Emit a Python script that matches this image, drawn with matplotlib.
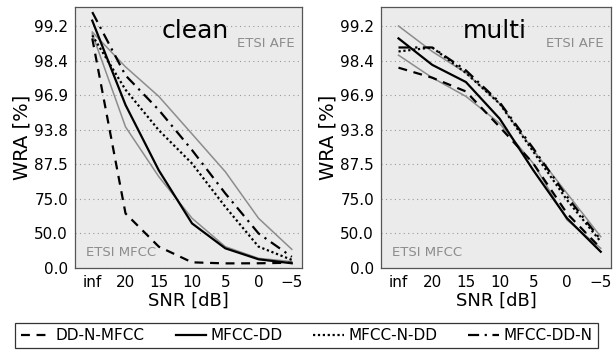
import numpy as np
import matplotlib
matplotlib.use("Agg")
import matplotlib.pyplot as plt

snr_labels = ["inf", "20", "15", "10", "5", "0", "\u22125"]

# WRA [%] per SNR condition, clean training
clean_dd_n_mfcc = [99.0, 66.5, 34.8, 10.7, 8.8, 9.0, 10.0]
clean_mfcc_dd = [99.3, 96.2, 85.9, 59.1, 32.6, 16.0, 9.0]
clean_mfcc_n_dd = [99.06, 97.2, 93.7, 87.7, 70.7, 34.8, 15.0]
clean_mfcc_dd_n = [99.41, 97.9, 95.8, 90.6, 77.6, 50.0, 20.0]
clean_etsi_afe = [99.12, 98.23, 96.8, 93.2, 85.5, 63.1, 31.2]
clean_etsi_mfcc = [99.09, 94.1, 84.0, 63.1, 34.8, 17.6, 12.0]

# multi-condition training
multi_dd_n_mfcc = [98.2, 97.8, 97.1, 94.1, 87.7, 66.5, 32.6]
multi_mfcc_dd = [99.0, 98.3, 97.6, 95.0, 85.9, 63.1, 27.8]
multi_mfcc_n_dd = [98.7, 98.8, 98.0, 96.3, 90.3, 74.4, 41.0]
multi_mfcc_dd_n = [98.8, 98.8, 98.1, 96.4, 90.9, 76.1, 43.0]
multi_etsi_afe = [99.22, 98.7, 98.0, 96.3, 90.6, 77.6, 46.6]
multi_etsi_mfcc = [98.6, 97.8, 96.8, 94.5, 87.7, 61.8, 32.6]

ytick_vals = [100 * (1 - 2.0 ** -k) for k in range(8)]


def fwd(y):
    y = np.clip(np.asarray(y, dtype=float), -1e9, 99.9999)
    return -np.log2(1 - y / 100.0)


def inv(u):
    return 100.0 * (1 - 2.0 ** -np.asarray(u, dtype=float))


fig = plt.figure(figsize=(6.13, 3.54), dpi=100)
ax1 = fig.add_axes([0.1223, 0.243, 0.370, 0.737])
ax2 = fig.add_axes([0.6215, 0.243, 0.375, 0.737])

panels = [
    (ax1, "clean", 0.38, clean_dd_n_mfcc, clean_mfcc_dd, clean_mfcc_n_dd, clean_mfcc_dd_n,
     clean_etsi_afe, clean_etsi_mfcc),
    (ax2, "multi", 0.357, multi_dd_n_mfcc, multi_mfcc_dd, multi_mfcc_n_dd, multi_mfcc_dd_n,
     multi_etsi_afe, multi_etsi_mfcc),
]

x = np.arange(len(snr_labels))
handles = None
for ax, title, tx, dd_n, m_dd, m_n_dd, m_dd_n, afe, mfcc in panels:
    ax.set_facecolor("#ebebeb")
    ax.set_yscale("function", functions=(fwd, inv))
    ax.plot(x, afe, color="#8c8c8c", lw=1.1)
    ax.plot(x, mfcc, color="#8c8c8c", lw=1.1)
    h1, = ax.plot(x, dd_n, color="black", ls=(0, (4, 3)), lw=1.6, label="DD-N-MFCC")
    h2, = ax.plot(x, m_dd, color="black", ls="-", lw=1.6, label="MFCC-DD")
    h3, = ax.plot(x, m_n_dd, color="black", ls=(0, (1, 1.2)), lw=1.6, label="MFCC-N-DD")
    h4, = ax.plot(x, m_dd_n, color="black", ls=(0, (5, 2.5, 1, 2.5)), lw=1.6, label="MFCC-DD-N")
    handles = [h1, h2, h3, h4]

    ax.set_xlim(-0.52, 6.3)
    ax.set_ylim(0, inv(7.55))
    ax.set_yticks(ytick_vals)
    ax.set_yticklabels(["%.1f" % v for v in ytick_vals])
    ax.minorticks_off()
    ax.set_xticks(x)
    ax.set_xticklabels(snr_labels)
    ax.tick_params(labelsize=11, length=0, pad=5)
    ax.grid(axis="y", color="#9a9a9a", ls=(0, (1, 3)), lw=0.8)
    ax.set_axisbelow(True)
    for s in ax.spines.values():
        s.set_color("#555555")
        s.set_linewidth(0.9)
    ax.set_ylabel("WRA [%]", fontsize=14, labelpad=2)
    ax.set_xlabel("SNR [dB]", fontsize=13, labelpad=1)
    ax.text(tx, 0.955, title, transform=ax.transAxes, ha="left", va="top", fontsize=18)
    ax.text(0.97, 0.862, "ETSI AFE", transform=ax.transAxes, ha="right", va="center",
            fontsize=9.5, color="#8c8c8c")
    ax.text(0.05, 0.06, "ETSI MFCC", transform=ax.transAxes, ha="left", va="center",
            fontsize=9.5, color="#8c8c8c")

leg = fig.legend(handles=handles, loc="center", bbox_to_anchor=(0.5, 0.052), ncol=4,
                 fontsize=11, frameon=True, fancybox=False, edgecolor="black",
                 handlelength=2.0, handletextpad=0.3, columnspacing=2.0,
                 borderpad=0.35, borderaxespad=0)
leg.get_frame().set_linewidth(0.9)

fig.savefig("out.png", dpi=100)
